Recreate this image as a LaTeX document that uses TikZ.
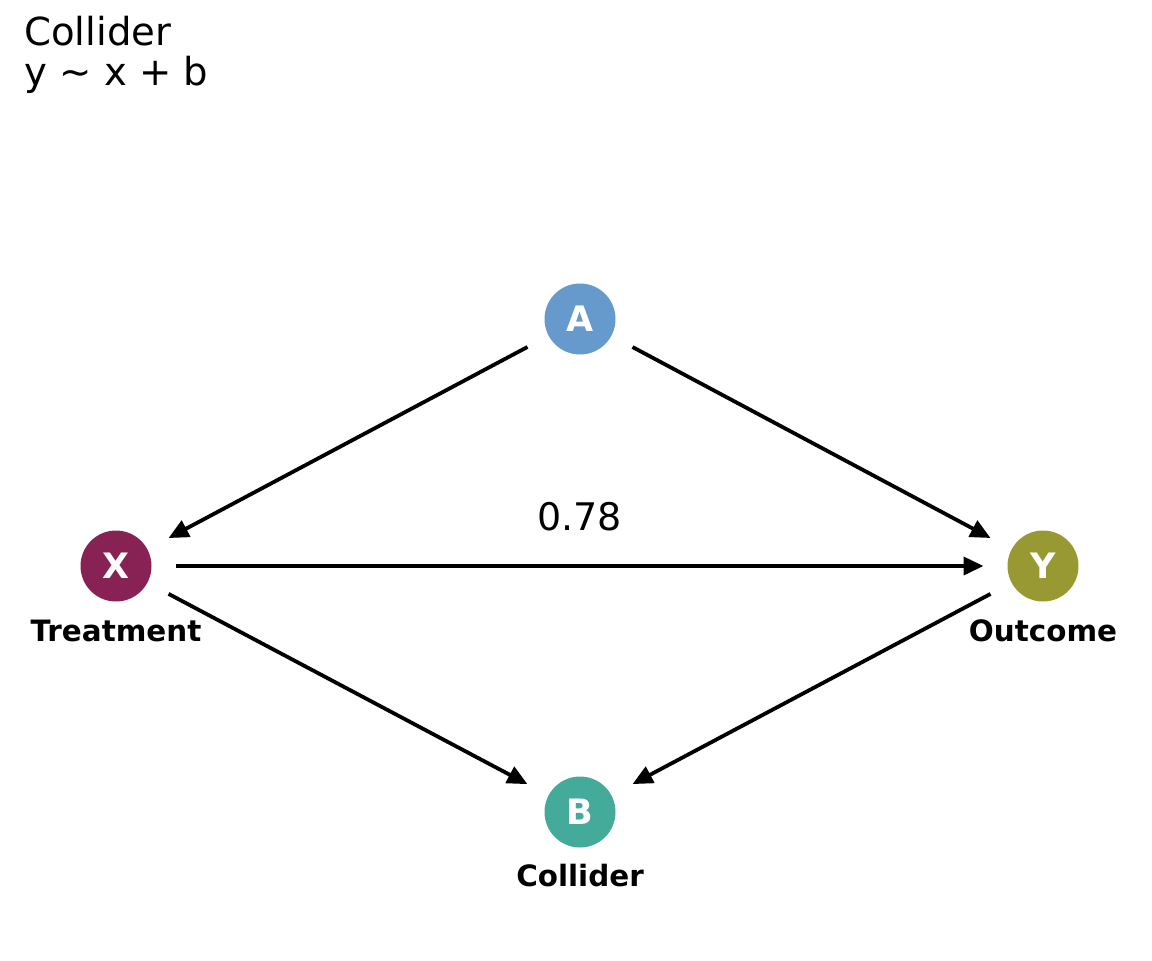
\documentclass[tikz,border=0pt]{standalone}
\usepackage{fontspec}
\setmainfont{DejaVu Sans}
\usetikzlibrary{arrows.meta, positioning}
\definecolor{treatcolor}{HTML}{882255}
\definecolor{outcolor}{HTML}{999933}
\definecolor{confcolor}{HTML}{6699CC}
\definecolor{collcolor}{HTML}{44AA99}

\begin{document}
\begin{tikzpicture}[x=0.5pt, y=-0.5pt,
    % Variable nodes: filled discs with white bold letters.
    var/.style={circle, fill=#1, draw=none, minimum size=35.5pt,
                inner sep=0pt, outer sep=12pt, text=white,
                font=\fontsize{17.5}{17.5}\selectfont\bfseries},
    % Role labels printed under the discs.
    role/.style={anchor=base, inner sep=0pt,
                 font=\fontsize{14.7}{14.7}\selectfont\bfseries},
    % Causal arrows between variables.
    dep/.style={-{Triangle[length=10pt, width=9pt]}, line width=1.9pt,
                color=black},
    % Coefficient printed on an edge.
    coeflabel/.style={inner sep=0pt, font=\fontsize{19}{19}\selectfont}
]
    \useasboundingbox (0,0) rectangle (1152,960);

    % === Title ===
    \node[anchor=north west, align=left, inner sep=0pt,
          font=\fontsize{19.3}{20}\selectfont] (title) at (24,16)
        {Collider\\y \textasciitilde{} x + b};

    % === Variables ===
    \node[var=confcolor]  (a) at (580,319) {A};
    \node[var=treatcolor] (x) at (116,566) {X};
    \node[var=outcolor]   (y) at (1043,566) {Y};
    \node[var=collcolor]  (b) at (580,812) {B};

    % === Role labels ===
    \node[role] (xlab) at (116,641) {Treatment};
    \node[role] (ylab) at (1043,641) {Outcome};
    \node[role] (blab) at (580,886) {Collider};

    % === Edges ===
    \draw[dep] (a) -- (x);
    \draw[dep] (a) -- (y);
    \draw[dep] (x) -- node[coeflabel, above=16.5pt] (coef) {0.78} (y);
    \draw[dep] (x) -- (b);
    \draw[dep] (y) -- (b);

\end{tikzpicture}
\end{document}
